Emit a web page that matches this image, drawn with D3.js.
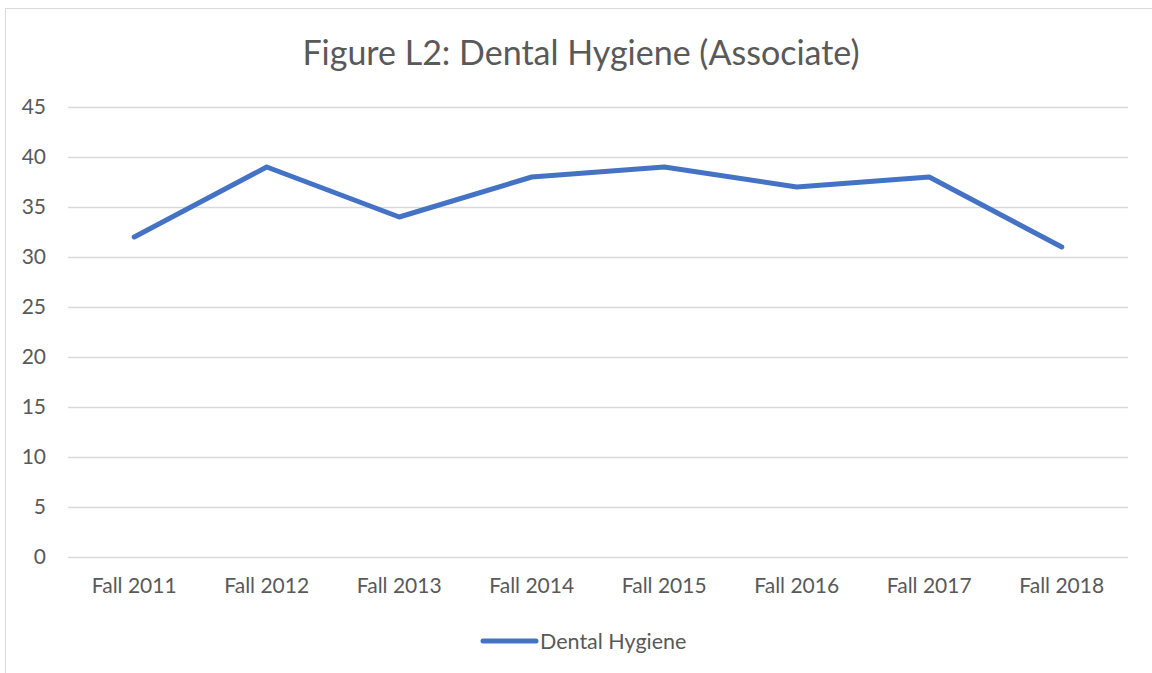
<!DOCTYPE html>
<html>
<head>
<meta charset="utf-8">
<script src="https://cdn.jsdelivr.net/npm/d3@7"></script>
<style>
  body { margin: 0; background: #fff; }
  text { font-family: Lato, "Open Sans", sans-serif; fill: #595959; }
</style>
</head>
<body>
<svg id="chart" width="1152" height="673"></svg>
<script>
const years = ["Fall 2011", "Fall 2012", "Fall 2013", "Fall 2014", "Fall 2015", "Fall 2016", "Fall 2017", "Fall 2018"]
const students = [32, 39, 34, 38, 39, 37, 38, 31]
const yTicks = [0, 5, 10, 15, 20, 25, 30, 35, 40, 45]

const svg = d3.select('#chart')
const margin = {top: 107, right: 24, bottom: 116, left: 68}
const width = 1152 - margin.left - margin.right
const height = 673 - margin.top - margin.bottom

// chart border
svg.append('rect')
    .attr('x', 5.5).attr('y', 8.5)
    .attr('width', 1160).attr('height', 700)
    .attr('fill', 'none')
    .attr('stroke', '#d9d9d9')

svg.append('text')
    .attr('x', 581).attr('y', 65)
    .attr('text-anchor', 'middle')
    .style('font-size', '34px')
    .text('Figure L2: Dental Hygiene (Associate)')

const g = svg.append('g').attr('transform', `translate(${margin.left},${margin.top})`)

const x = d3.scaleBand().domain(years).range([0, width])
const y = d3.scaleLinear().domain([0, 45]).range([height, 0])

// gridlines
g.append('g')
    .selectAll('line')
    .data(yTicks)
    .join('line')
    .attr('x1', 0).attr('x2', width)
    .attr('y1', d => Math.round(y(d)) + 0.5)
    .attr('y2', d => Math.round(y(d)) + 0.5)
    .attr('stroke', '#d9d9d9')
    .attr('stroke-width', 1.5)

const yAxis = g.append('g')
    .call(d3.axisLeft(y).tickValues(yTicks).tickSize(0).tickPadding(22))
yAxis.select('.domain').remove()
yAxis.selectAll('text').style('font-size', '21px').attr('fill', '#595959')

const xAxis = g.append('g')
    .attr('transform', `translate(0,${height})`)
    .call(d3.axisBottom(x).tickSize(0).tickPadding(21))
xAxis.select('.domain').remove()
xAxis.selectAll('text').style('font-size', '21px').attr('fill', '#595959')

const line = d3.line()
    .x((d, i) => x(years[i]) + x.bandwidth() / 2)
    .y(d => y(d))

g.append('path')
    .datum(students)
    .attr('d', line)
    .attr('fill', 'none')
    .attr('stroke', '#4472c4')
    .attr('stroke-width', 5)
    .attr('stroke-linecap', 'round')
    .attr('stroke-linejoin', 'round')

// legend
const legend = svg.append('g').attr('transform', 'translate(483,641)')
legend.append('line')
    .attr('x1', 0).attr('x2', 53)
    .attr('stroke', '#4472c4')
    .attr('stroke-width', 5)
    .attr('stroke-linecap', 'round')
legend.append('text')
    .attr('x', 57).attr('y', 8)
    .style('font-size', '21.5px')
    .text('Dental Hygiene')
</script>
</body>
</html>
